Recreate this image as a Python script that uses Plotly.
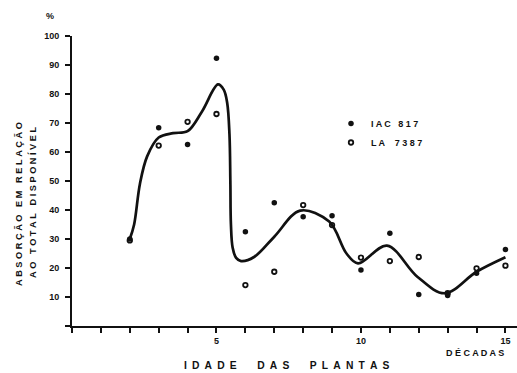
import plotly.graph_objects as go

# Absorption (% of total available) by plant age, in decades
decades = [2, 3, 4, 5, 6, 7, 8, 9, 10, 11, 12, 13, 14, 15]
iac_817 = [30, 68.4, 62.6, 92.3, 32.5, 42.5, 37.7, 38.0, 19.3, 32.0, 10.9, 10.5, 18.2, 26.4]
la_7387 = [29.5, 62.2, 70.4, 73.1, 14.1, 18.7, 41.7, 34.8, 23.6, 22.4, 23.8, 11.3, 19.9, 20.8]

# Hand-fitted trend curve
fit_x = [2.0, 2.15, 2.35, 2.6, 3.0, 3.5, 4.0, 4.5, 5.05, 5.25, 5.37, 5.45, 5.48, 5.5,
         5.56, 5.68, 5.85, 6.3, 7.0, 7.9, 8.9, 9.5, 9.9, 10.9, 11.95, 12.9, 14.0, 15.0]
fit_y = [30, 35, 49, 58.5, 65, 66.5, 67.2, 74, 83.3, 81.5, 77, 66, 50, 35,
         27, 23.5, 22.4, 23.8, 30.8, 39.8, 36, 25, 21.6, 27.7, 17, 11.3, 18.7, 23.7]

x_ticks = list(range(0, 16))
x_tick_text = ["5" if v == 5 else "10" if v == 10 else "15" if v == 15 else "" for v in x_ticks]
y_ticks = list(range(0, 101, 10))
y_tick_text = ["" if v == 0 else str(v) for v in y_ticks]

FONT = "Liberation Sans"
BLACK = "#111111"

fig = go.Figure()
fig.add_trace(go.Scatter(
    x=fit_x, y=fit_y, mode="lines", showlegend=False, hoverinfo="skip",
    line=dict(color=BLACK, width=2.7, shape="spline", smoothing=1.0),
))
fig.add_trace(go.Scatter(
    x=decades, y=iac_817, mode="markers", name="I A C   8 1 7",
    marker=dict(symbol="circle", size=5.5, color=BLACK),
))
fig.add_trace(go.Scatter(
    x=decades, y=la_7387, mode="markers", name="L A    7 3 8 7",
    marker=dict(symbol="circle-open", size=4.5, color=BLACK, line=dict(width=1.8)),
))

L, T, W, H = 72, 36, 445, 290

def px(xp, yp):
    return (xp - L) / W, (T + H - yp) / H

def label(text, xp, yp, size, angle=0):
    ax, ay = px(xp, yp)
    return dict(text=text, x=ax, y=ay, xref="paper", yref="paper",
                xanchor="center", yanchor="middle", textangle=angle, showarrow=False,
                font=dict(size=size, family=FONT, color=BLACK, weight=700))

NB = "\u00a0"  # non-collapsing space

def spaced(*words):
    return (NB * 3).join(NB.join(w) for w in words)

annotations = [
    label("%", 50, 16, 9),
    label(spaced("ABSORÇÃO", "EM", "RELAÇÃO"), 19, 204, 9.2, -90),
    label(spaced("AO", "TOTAL", "DISPONÍVEL"), 33, 203, 9.2, -90),
    label("\u2002".join("IDADE") + "\u2003\u2003" + "\u2002".join("DAS") + "\u2003\u2003"
          + "\u2002".join("PLANTAS"), 287, 365, 10.3),
    label(" ".join("DÉCADAS"), 475, 353, 9),
]

lx, ly = px(331, 109)
fig.update_layout(
    width=517, height=373,
    margin=dict(l=L, r=517 - L - W, t=T, b=373 - T - H),
    paper_bgcolor="white", plot_bgcolor="white",
    font=dict(family=FONT, size=9, color=BLACK, weight=700),
    showlegend=True,
    legend=dict(x=lx, y=ly, xanchor="left", yanchor="top", bgcolor="rgba(0,0,0,0)",
                font=dict(size=9, family=FONT, color=BLACK, weight=700),
                itemwidth=30, tracegroupgap=0),
    xaxis=dict(range=[0, 15.4], showgrid=False, zeroline=False, showline=True,
               linecolor=BLACK, linewidth=2, ticks="outside", ticklen=5, tickwidth=1.5,
               tickcolor=BLACK, tickvals=x_ticks, ticktext=x_tick_text,
               tickfont=dict(size=9, family=FONT, color=BLACK, weight=700)),
    yaxis=dict(range=[0, 100], showgrid=False, zeroline=False, showline=True,
               linecolor=BLACK, linewidth=2, ticks="outside", ticklen=5, tickwidth=1.5,
               tickcolor=BLACK, tickvals=y_ticks, ticktext=y_tick_text,
               ticklabelstandoff=4,
               tickfont=dict(size=9, family=FONT, color=BLACK, weight=700)),
    annotations=annotations,
)

fig.write_html("out.html")
